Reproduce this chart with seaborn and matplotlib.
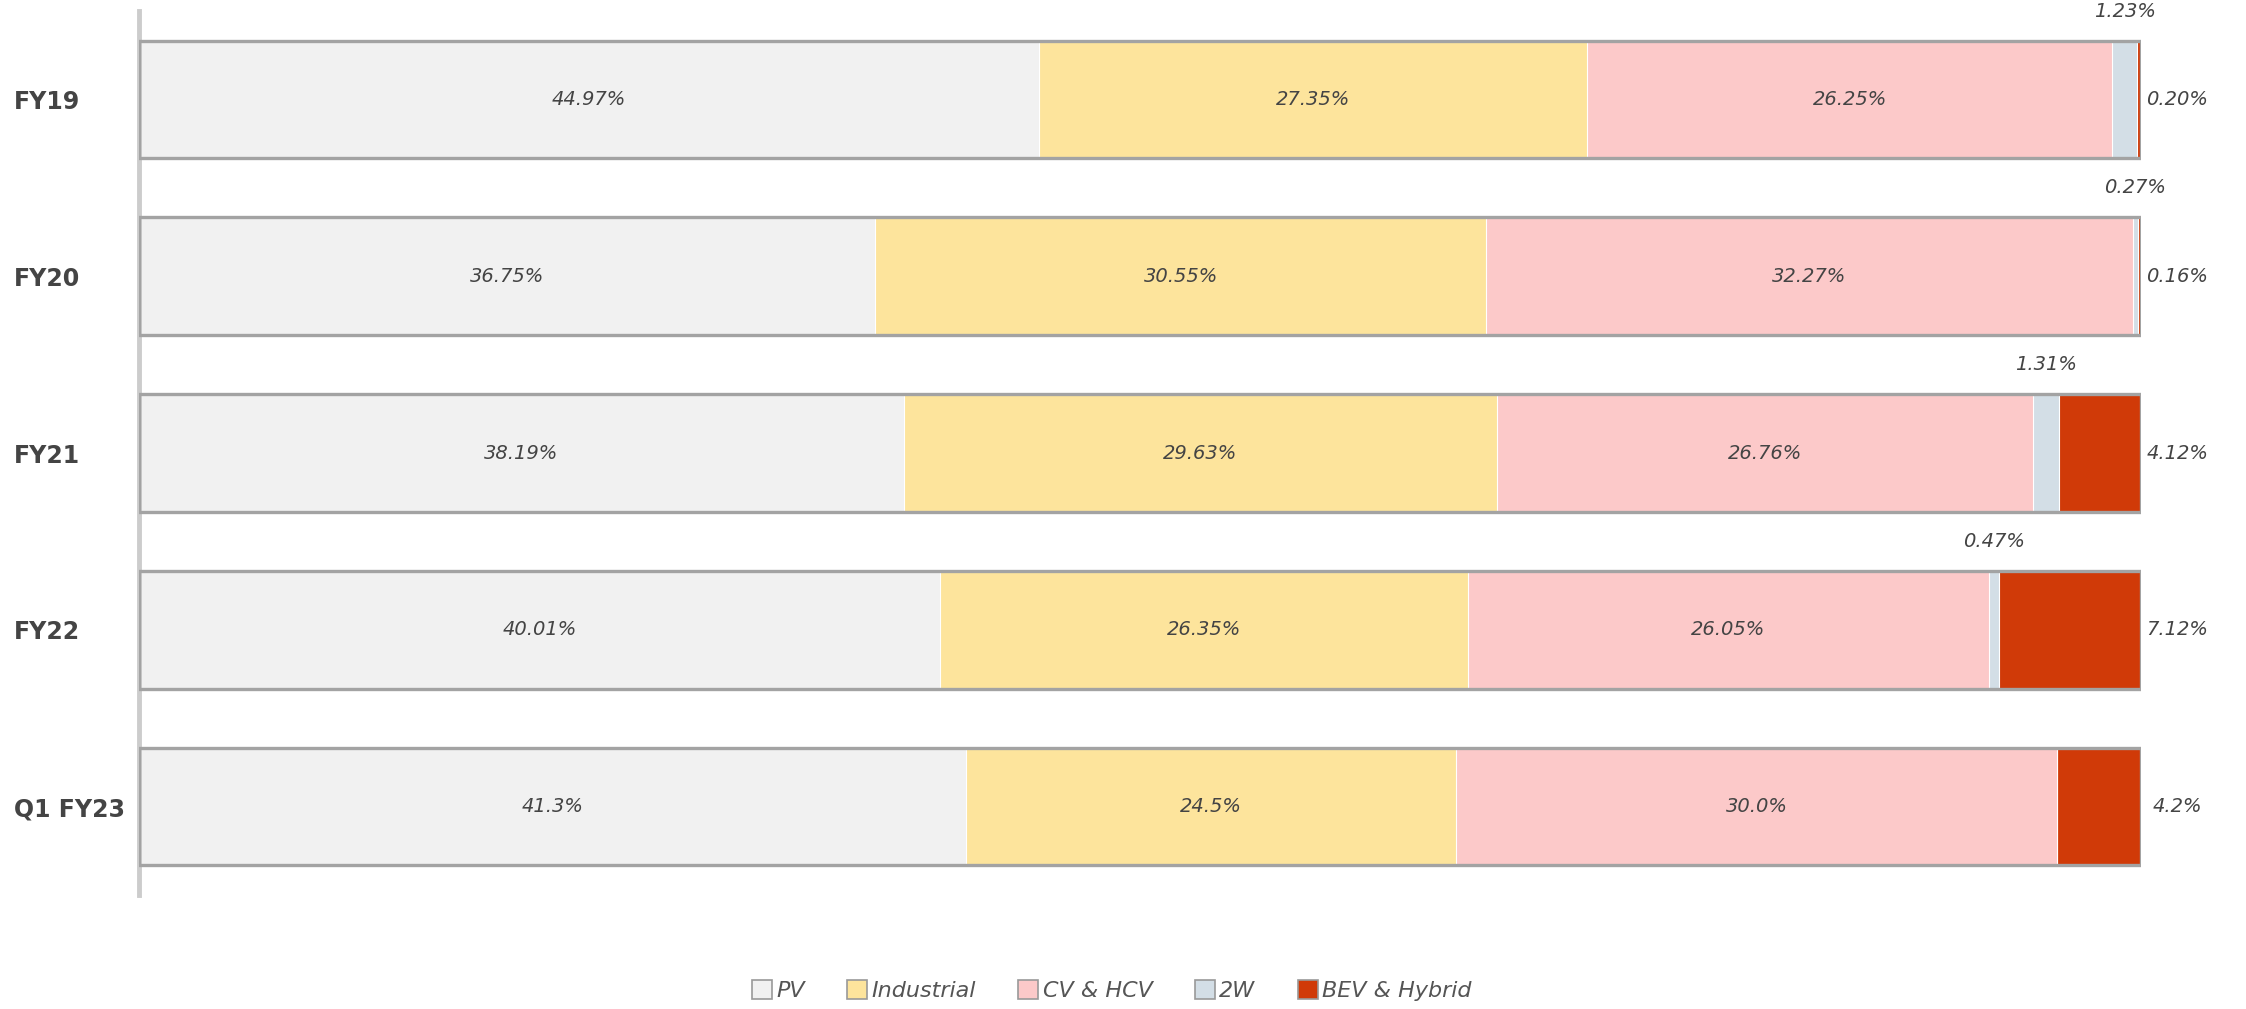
import matplotlib
matplotlib.use("Agg")
import matplotlib.pyplot as plt
from matplotlib.patches import Patch
import seaborn as sns
import numpy as np
import pandas as pd

categories = ["FY19", "FY20", "FY21", "FY22", "Q1 FY23"]
series_names = ["PV", "Industrial", "CV & HCV", "2W", "BEV & Hybrid"]
pv = [44.97, 36.75, 38.19, 40.01, 41.3]
industrial = [27.35, 30.55, 29.63, 26.35, 24.5]
cv_hcv = [26.25, 32.27, 26.76, 26.05, 30.0]
two_w = [1.23, 0.27, 1.31, 0.47, 0.0]
bev = [0.20, 0.16, 4.12, 7.12, 4.2]
label_texts = {
    "PV": ["44.97%", "36.75%", "38.19%", "40.01%", "41.3%"],
    "Industrial": ["27.35%", "30.55%", "29.63%", "26.35%", "24.5%"],
    "CV & HCV": ["26.25%", "32.27%", "26.76%", "26.05%", "30.0%"],
    "2W": ["1.23%", "0.27%", "1.31%", "0.47%", ""],
    "BEV & Hybrid": ["0.20%", "0.16%", "4.12%", "7.12%", "4.2%"],
}
colors = ["#f1f1f1", "#fde49c", "#fcc9c9", "#d3dee6", "#d03a08"]

sns.set_theme(style="white")
plt.rcParams["font.family"] = ["DejaVu Sans"]

series = [pv, industrial, cv_hcv, two_w, bev]
df = pd.DataFrame({"category": categories})
cum = np.zeros(len(categories))
for name, vals in zip(series_names, series):
    cum = cum + np.array(vals)
    df[name + "_cum"] = cum.copy()
    df[name] = vals

fig = plt.figure(figsize=(22.46, 10.09), dpi=100)
ax = fig.add_axes([0.0619, 0.113, 0.9533 - 0.0619, 0.989 - 0.113])

bar_h = 0.665
# draw cumulative bars from the total down to the first series
for name, col in reversed(list(zip(series_names, colors))):
    sns.barplot(data=df, x=name + "_cum", y="category", orient="h", color=col,
                saturation=1, width=bar_h, ax=ax, edgecolor="white", linewidth=0.8)

# outline of total bar
total = df["BEV & Hybrid_cum"].values
ax.barh(np.arange(len(categories)), total, height=bar_h, fill=False,
        edgecolor="#a3a3a3", linewidth=2.4, zorder=5)

ax.set_xlim(0, 100)
ax.set_ylim(4.5, -0.5)
ax.set_xlabel("")
ax.set_ylabel("")
ax.set_xticks([])

# labels
txt_kw = dict(fontsize=14, style="italic", color="#444444")
for i in range(len(categories)):
    left = 0.0
    for name, vals in zip(series_names, series):
        v = vals[i]
        t = label_texts[name][i]
        cx = left + v / 2
        if name in ("PV", "Industrial", "CV & HCV"):
            ax.text(cx, i, t, ha="center", va="center", **txt_kw)
        elif name == "2W" and t:
            ax.text(cx, i - 0.5, t, ha="center", va="center", clip_on=False, **txt_kw)
        elif name == "BEV & Hybrid":
            ax.text(101.8, i, t, ha="center", va="center", clip_on=False, **txt_kw)
        left += v

for s in ["top", "right", "bottom"]:
    ax.spines[s].set_visible(False)
ax.spines["left"].set_color("#cccccc")
ax.spines["left"].set_linewidth(3.5)

ax.tick_params(axis="y", length=0, pad=90)
for lab in ax.get_yticklabels():
    lab.set_ha("left")
    lab.set_fontweight("bold")
    lab.set_fontsize(17)
    lab.set_color("#444444")

handles = [Patch(facecolor=c, edgecolor="#999999", linewidth=1.2, label=n)
           for n, c in zip(series_names, colors)]
leg = fig.legend(handles=handles, loc="center", bbox_to_anchor=(0.495, 0.018), ncol=5,
                 frameon=False, handlelength=0.9, handleheight=0.9, handletextpad=0.2,
                 columnspacing=1.9, prop={"size": 16, "style": "italic"})
for t in leg.get_texts():
    t.set_color("#555555")

fig.savefig("out.png", dpi=100)
